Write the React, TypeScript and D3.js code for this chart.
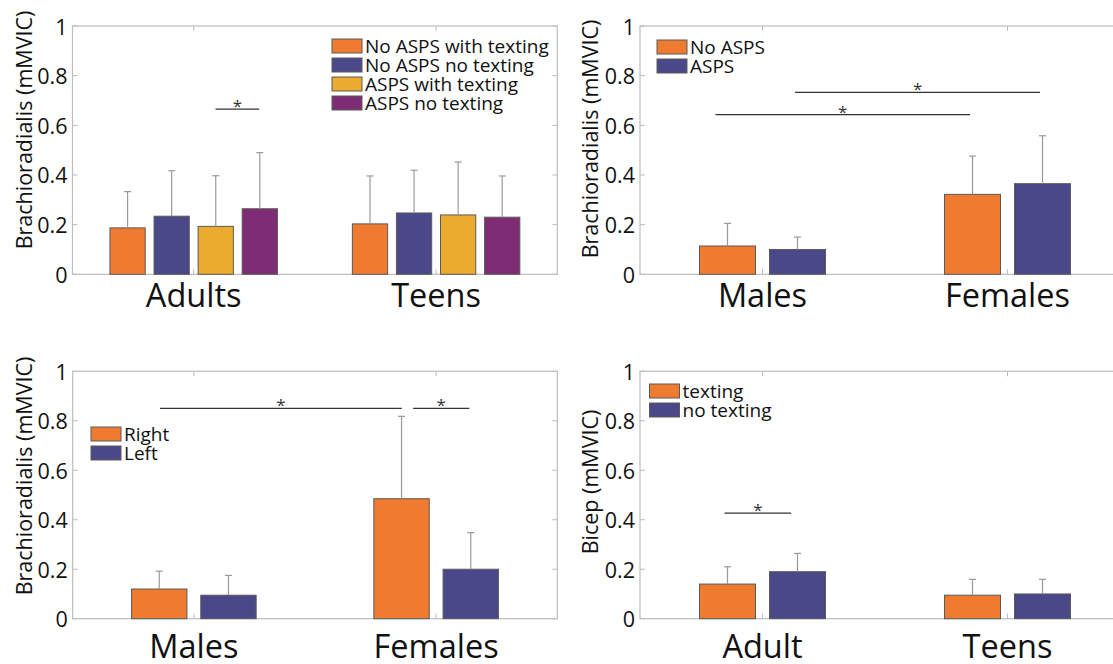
import React from "react";
import * as d3 from "d3";

// ---------- DATA ----------
const p1Categories = ["Adults", "Teens"];
const p1Series = ["No ASPS with texting", "No ASPS no texting", "ASPS with texting", "ASPS no texting"];
const p1Means = [
  [0.187, 0.203],
  [0.234, 0.247],
  [0.193, 0.239],
  [0.264, 0.23],
];
const p1Errors = [
  [0.146, 0.193],
  [0.183, 0.172],
  [0.204, 0.213],
  [0.226, 0.166],
];
const p1Sig = [{ x1: 1.09, x2: 1.27, y: 0.665 }];

const p2Categories = ["Males", "Females"];
const p2Series = ["No ASPS", "ASPS"];
const p2Means = [
  [0.114, 0.322],
  [0.1, 0.365],
];
const p2Errors = [
  [0.091, 0.154],
  [0.05, 0.193],
];
const p2Sig = [
  { x1: 0.808, x2: 1.847, y: 0.643 },
  { x1: 1.133, x2: 2.133, y: 0.733 },
];

const p3Categories = ["Males", "Females"];
const p3Series = ["Right", "Left"];
const p3Means = [
  [0.12, 0.485],
  [0.095, 0.2],
];
const p3Errors = [
  [0.072, 0.333],
  [0.08, 0.148],
];
const p3Sig = [
  { x1: 0.86, x2: 1.858, y: 0.85 },
  { x1: 1.905, x2: 2.137, y: 0.85 },
];

const p4Categories = ["Adult", "Teens"];
const p4Series = ["texting", "no texting"];
const p4Means = [
  [0.14, 0.095],
  [0.19, 0.1],
];
const p4Errors = [
  [0.07, 0.064],
  [0.074, 0.059],
];
const p4Sig = [{ x1: 0.845, x2: 1.117, y: 0.427 }];

const yTicks = [0, 0.2, 0.4, 0.6, 0.8, 1];
const yTickLabels = ["0", "0.2", "0.4", "0.6", "0.8", "1"];

const colors4 = ["#EE7B30", "#4B4889", "#EAAB2F", "#7E2D74"];
const colors2 = ["#EE7B30", "#4B4889"];

// ---------- LAYOUT ----------
const W = 1113;
const H = 664;
const FONT = "'Open Sans', 'Noto Sans', sans-serif";

type Sig = { x1: number; x2: number; y: number };
type PanelProps = {
  left: number;
  right: number;
  top: number;
  bottom: number;
  categories: string[];
  series: string[];
  means: number[][];
  errors: number[][];
  colors: string[];
  sig: Sig[];
  legendX: number;
  legendY: number;
  ylabel: string;
  ylx: number;
  yly: number;
  catBaseline: number;
};

function Panel(p: PanelProps) {
  const x = d3.scaleLinear().domain([0.5, 2.5]).range([p.left, p.right]);
  const y = d3.scaleLinear().domain([0, 1]).range([p.bottom, p.top]);
  const n = p.series.length;
  const gw = Math.min(0.8, n / (n + 1.5));
  const spacing = gw / n;
  const bw = spacing * 0.8;
  const axisColor = "#bdbdbd";
  const tickLen = 5;

  const bars: JSX.Element[] = [];
  const errs: JSX.Element[] = [];
  p.series.forEach((s, si) => {
    p.categories.forEach((c, ci) => {
      const cx = ci + 1 + (si - (n - 1) / 2) * spacing;
      const x0 = x(cx - bw / 2);
      const x1 = x(cx + bw / 2);
      const m = p.means[si][ci];
      const e = p.errors[si][ci];
      bars.push(
        <rect
          key={`b${si}-${ci}`}
          x={x0}
          y={y(m)}
          width={x1 - x0}
          height={y(0) - y(m)}
          fill={p.colors[si]}
          stroke="#5a5a5a"
          strokeWidth={1}
        />
      );
      const px = x(cx);
      errs.push(
        <g key={`e${si}-${ci}`} stroke="#9a9a9a" strokeWidth={1.2}>
          <line x1={px} x2={px} y1={y(m)} y2={y(m + e)} />
          <line x1={px - 3.5} x2={px + 3.5} y1={y(m + e)} y2={y(m + e)} />
        </g>
      );
    });
  });

  return (
    <g>
      <rect
        x={p.left}
        y={p.top}
        width={p.right - p.left}
        height={p.bottom - p.top}
        fill="none"
        stroke={axisColor}
        strokeWidth={1.2}
      />
      {yTicks.map((t, i) => (
        <g key={`yt${i}`}>
          <line x1={p.left} x2={p.left + tickLen} y1={y(t)} y2={y(t)} stroke={axisColor} />
          <line x1={p.right} x2={p.right - tickLen} y1={y(t)} y2={y(t)} stroke={axisColor} />
          <text
            x={p.left - 5}
            y={y(t)}
            textAnchor="end"
            dominantBaseline="central"
            fontFamily={FONT}
            fontSize={21.5}
            fill="#111"
          >
            {yTickLabels[i]}
          </text>
        </g>
      ))}
      {p.categories.map((c, ci) => (
        <g key={`xt${ci}`}>
          <line x1={x(ci + 1)} x2={x(ci + 1)} y1={p.bottom} y2={p.bottom - tickLen} stroke={axisColor} />
          <line x1={x(ci + 1)} x2={x(ci + 1)} y1={p.top} y2={p.top + tickLen} stroke={axisColor} />
          <text
            x={x(ci + 1)}
            y={p.catBaseline}
            textAnchor="middle"
            fontFamily={FONT}
            fontSize={32.5}
            fill="#111"
          >
            {c}
          </text>
        </g>
      ))}
      {bars}
      {errs}
      {p.sig.map((s, i) => (
        <g key={`s${i}`}>
          <line x1={x(s.x1)} x2={x(s.x2)} y1={y(s.y)} y2={y(s.y)} stroke="#333" strokeWidth={1.2} />
          <text
            x={(x(s.x1) + x(s.x2)) / 2}
            y={y(s.y) + 3}
            textAnchor="middle"
            fontFamily={FONT}
            fontSize={17}
            fill="#333"
          >
            *
          </text>
        </g>
      ))}
      {p.series.map((s, si) => (
        <g key={`l${si}`}>
          <rect
            x={p.legendX}
            y={p.legendY + si * 19}
            width={30}
            height={14}
            fill={p.colors[si]}
            stroke="#5a5a5a"
            strokeWidth={1}
          />
          <text
            x={p.legendX + 33}
            y={p.legendY + si * 19 + 14}
            fontFamily={FONT}
            fontSize={19}
            fill="#111"
          >
            {s}
          </text>
        </g>
      ))}
      <text
        transform={`translate(${p.ylx},${p.yly}) rotate(-90)`}
        textAnchor="middle"
        dominantBaseline="central"
        fontFamily={FONT}
        fontSize={21.5}
        fill="#111"
      >
        {p.ylabel}
      </text>
    </g>
  );
}

export default function App() {
  return (
    <svg
      width={W}
      height={H}
      style={{ position: "absolute", left: 0, top: 0, background: "#fff" }}
    >
      <rect x={0} y={0} width={W} height={H} fill="#fff" />
      <Panel
        left={72.5}
        right={557.3}
        top={26}
        bottom={274.3}
        categories={p1Categories}
        series={p1Series}
        means={p1Means}
        errors={p1Errors}
        colors={colors4}
        sig={p1Sig}
        legendX={332}
        legendY={39}
        ylabel="Brachioradialis (mMVIC)"
        ylx={23}
        yly={130}
        catBaseline={307}
      />
      <Panel
        left={640}
        right={1130}
        top={26}
        bottom={274.3}
        categories={p2Categories}
        series={p2Series}
        means={p2Means}
        errors={p2Errors}
        colors={colors2}
        sig={p2Sig}
        legendX={657}
        legendY={40}
        ylabel="Brachioradialis (mMVIC)"
        ylx={589}
        yly={139}
        catBaseline={307}
      />
      <Panel
        left={72.7}
        right={557.3}
        top={371.3}
        bottom={618.7}
        categories={p3Categories}
        series={p3Series}
        means={p3Means}
        errors={p3Errors}
        colors={colors2}
        sig={p3Sig}
        legendX={91}
        legendY={427}
        ylabel="Brachioradialis (mMVIC)"
        ylx={23}
        yly={476}
        catBaseline={658}
      />
      <Panel
        left={640}
        right={1130}
        top={371.3}
        bottom={618.7}
        categories={p4Categories}
        series={p4Series}
        means={p4Means}
        errors={p4Errors}
        colors={colors2}
        sig={p4Sig}
        legendX={649.5}
        legendY={384}
        ylabel="Bicep (mMVIC)"
        ylx={589}
        yly={482}
        catBaseline={658}
      />
    </svg>
  );
}
